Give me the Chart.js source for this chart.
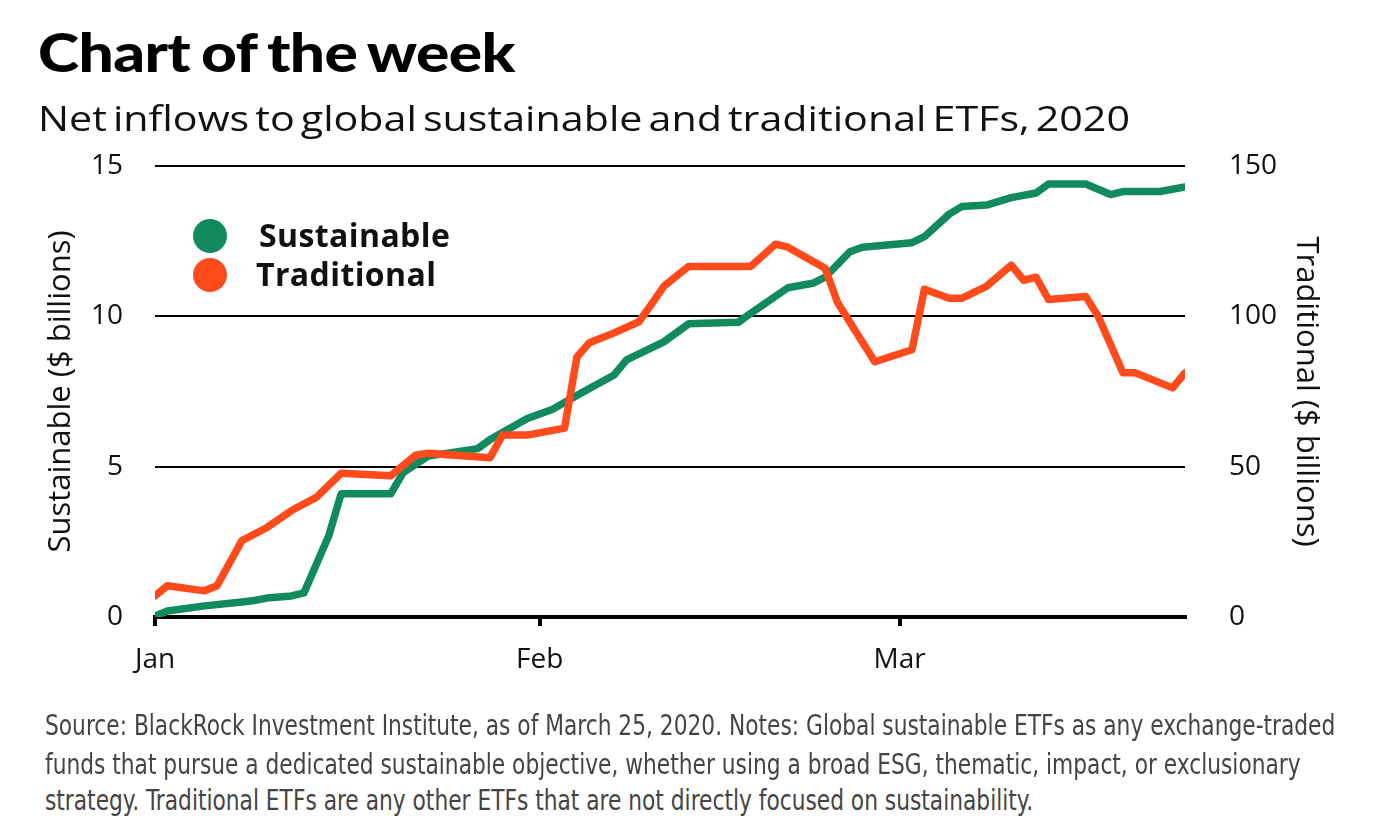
<!DOCTYPE html>
<html>
<head>
<meta charset="utf-8">
<script src="https://cdn.jsdelivr.net/npm/chart.js@4.4.1/dist/chart.umd.min.js"></script>
<style>
  html, body { margin: 0; padding: 0; background: #fff; }
  body { width: 1400px; height: 840px; position: relative; overflow: hidden; }
  #wrap { position: absolute; left: 0; top: 0; width: 1400px; height: 720px; }
  .fit { transform-origin: 0 0; }
  .title { position: absolute; left: 38px; top: 19px; font-family: "Lato", "Roboto", sans-serif; font-weight: 900;
           font-size: 54px; letter-spacing: -0.5px; word-spacing: -3px; color: #000; white-space: nowrap; }
  .subtitle { position: absolute; left: 38px; top: 94px; font-family: "Open Sans", "Noto Sans", sans-serif; font-weight: 400;
              font-size: 35px; word-spacing: -4px; color: #111; white-space: nowrap; }
  .legend { position: absolute; font-family: "Open Sans", "Noto Sans", sans-serif; font-weight: 700; font-size: 32px;
            letter-spacing: 0.4px; color: #111; white-space: nowrap; }
  .dot { position: absolute; width: 34px; height: 34px; border-radius: 50%; }
  .note { position: absolute; left: 45px; font-family: "DejaVu Sans Condensed", "DejaVu Sans", sans-serif;
          font-size: 28px; color: #444; white-space: nowrap; }
</style>
</head>
<body>
<div id="wrap"><canvas id="chart"></canvas></div>
<div class="title fit" data-w="477">Chart of the week</div>
<div class="subtitle fit" data-w="1092">Net inflows to global sustainable and traditional ETFs, 2020</div>
<div class="dot" style="left:193px; top:219px; background:#118a5e;"></div>
<div class="dot" style="left:193px; top:258px; background:#ff4b1c;"></div>
<div class="legend" style="left:259px; top:213px;">Sustainable</div>
<div class="legend" style="left:256px; top:252px;">Traditional</div>
<div class="note fit" id="note1" data-w="1290" style="top:709px;">Source: BlackRock Investment Institute, as of March 25, 2020. Notes: Global sustainable ETFs as any exchange-traded</div>
<div class="note" id="note2" style="top:748px;">funds that pursue a dedicated sustainable objective, whether using a broad ESG, thematic, impact, or exclusionary</div>
<div class="note" id="note3" style="top:784px;">strategy. Traditional ETFs are any other ETFs that are not directly focused on sustainability.</div>
<script>
// days counted from Jan 1, 2020
const monthTicks = [0, 31, 60];
const monthLabels = ["Jan", "Feb", "Mar"];

const sustainableDays = [0, 1, 4, 7, 8, 9, 11, 12, 14, 15, 19, 20, 22, 26, 27, 30, 32, 35, 37, 38, 41, 42, 43, 47, 48, 51, 53, 54, 56, 57, 61, 62, 64, 65, 67, 69, 71, 72, 75, 77, 78, 81, 83];
const sustainableValues = [0.03, 0.2, 0.37, 0.5, 0.55, 0.63, 0.7, 0.8, 2.7, 4.1, 4.1, 4.8, 5.35, 5.6, 5.9, 6.6, 6.9, 7.6, 8.05, 8.55, 9.15, 9.45, 9.75, 9.8, 10.1, 10.95, 11.1, 11.3, 12.15, 12.3, 12.45, 12.65, 13.4, 13.65, 13.7, 13.95, 14.1, 14.4, 14.4, 14.05, 14.15, 14.15, 14.3];

const traditionalDays = [0, 1, 4, 5, 7, 9, 11, 13, 15, 19, 21, 22, 27, 28, 30, 33, 34, 35, 37, 39, 40, 41, 43, 48, 50, 51, 54, 55, 58, 61, 62, 64, 65, 67, 69, 70, 71, 72, 75, 76, 78, 79, 82, 83];
const traditionalValues = [7, 10.4, 8.7, 10.4, 25.4, 29.7, 35.4, 39.8, 47.8, 47, 53.8, 54.5, 53, 60.5, 60.5, 62.8, 86.5, 91.2, 94.5, 98.2, 104, 110, 116.6, 116.6, 124, 123, 116, 104.6, 84.9, 88.9, 109, 106, 106, 110, 117, 112, 113, 105.6, 106.6, 100, 81.2, 81.2, 76.2, 81.2];

const GREEN = "#118a5e";
const ORANGE = "#ff4b1c";
const FONT = "'Open Sans', 'Noto Sans', sans-serif";
const axisFont = { family: FONT, size: 28 };

function toPoints(days, values) {
  return days.map((d, i) => ({ x: d, y: values[i] }));
}

// squeeze/stretch a text line to the width it has in the picture
function fitText() {
  let noteScale = 1;
  document.querySelectorAll(".fit").forEach((el) => {
    const s = Number(el.dataset.w) / el.offsetWidth;
    el.style.transform = `scaleX(${s})`;
    if (el.id === "note1") noteScale = s;
  });
  ["note2", "note3"].forEach((id) => {
    document.getElementById(id).style.transform = `scaleX(${noteScale})`;
    document.getElementById(id).style.transformOrigin = "0 0";
  });
}
fitText();
document.fonts.ready.then(fitText);

const ctx = document.getElementById("chart").getContext("2d");

new Chart(ctx, {
  type: "line",
  data: {
    datasets: [
      {
        label: "Sustainable",
        data: toPoints(sustainableDays, sustainableValues),
        yAxisID: "yL",
        borderColor: GREEN,
        borderWidth: 7.5,
        pointRadius: 0,
        tension: 0,
        borderJoinStyle: "round",
        borderCapStyle: "round",
        order: 2,
      },
      {
        label: "Traditional",
        data: toPoints(traditionalDays, traditionalValues),
        yAxisID: "yR",
        borderColor: ORANGE,
        borderWidth: 7.5,
        pointRadius: 0,
        tension: 0,
        borderJoinStyle: "round",
        borderCapStyle: "round",
        order: 1,
      },
    ],
  },
  options: {
    responsive: true,
    maintainAspectRatio: false,
    animation: false,
    layout: { padding: { top: 166, bottom: 43, left: 0, right: 0 } },
    plugins: { legend: { display: false }, tooltip: { enabled: false } },
    scales: {
      x: {
        type: "linear",
        min: 0,
        max: 83,
        afterBuildTicks: (scale) => {
          scale.ticks = monthTicks.map((v) => ({ value: v }));
        },
        afterFit: (scale) => {
          scale.height = 60;
        },
        ticks: {
          autoSkip: false,
          maxRotation: 0,
          padding: 17,
          color: "#111",
          font: axisFont,
          callback: (v) => monthLabels[monthTicks.indexOf(v)],
        },
        grid: { drawOnChartArea: false, drawTicks: true, tickLength: 9, lineWidth: 4, color: "#000" },
        border: { display: true, width: 4, color: "#000" },
      },
      yL: {
        position: "left",
        min: 0,
        max: 15,
        afterFit: (scale) => {
          scale.width = 155;
        },
        ticks: { stepSize: 5, padding: 32, color: "#111", font: axisFont },
        grid: { color: "#000", lineWidth: 2, drawTicks: false },
        border: { display: false },
        title: {
          display: true,
          text: "Sustainable ($ billions)",
          color: "#111",
          font: { family: FONT, size: 31 },
          padding: { top: 43, bottom: 0 },
        },
      },
      yR: {
        position: "right",
        min: 0,
        max: 150,
        afterFit: (scale) => {
          scale.width = 215;
        },
        ticks: { stepSize: 50, padding: 36, color: "#111", font: axisFont },
        grid: { display: false },
        border: { display: false },
        title: {
          display: true,
          text: "Traditional ($ billions)",
          color: "#111",
          font: { family: FONT, size: 31 },
          padding: { top: 76, bottom: 0 },
        },
      },
    },
  },
});
</script>
</body>
</html>
